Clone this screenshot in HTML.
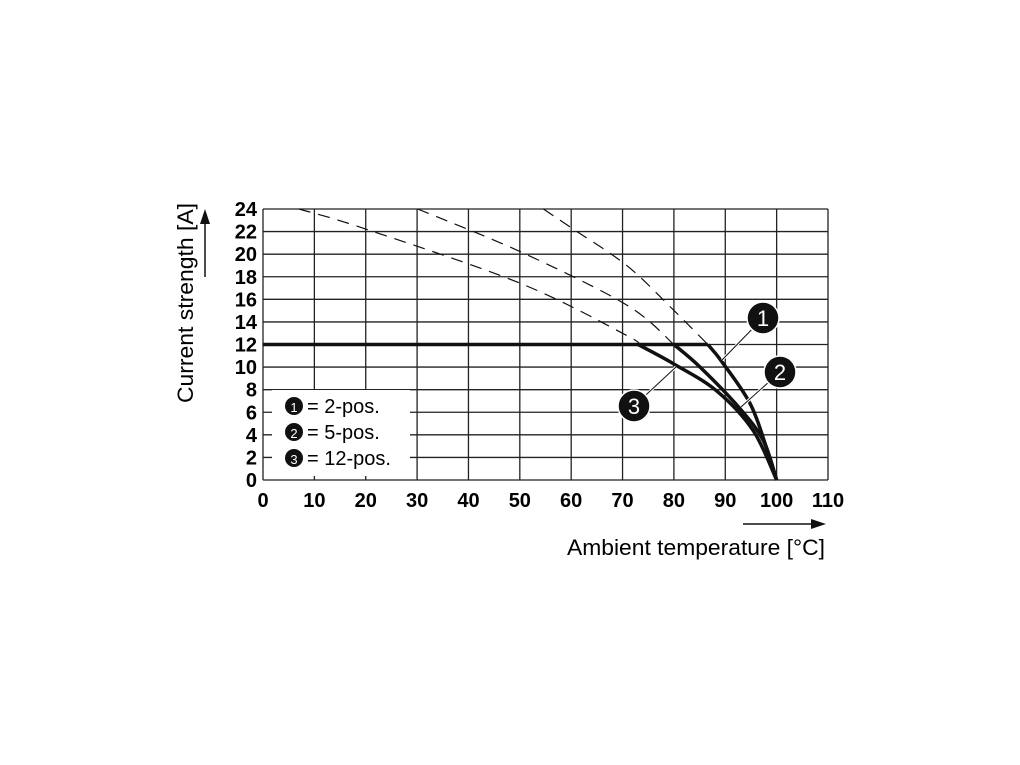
<!DOCTYPE html>
<html><head><meta charset="utf-8"><style>
body{margin:0;background:#fff;}
svg{display:block;font-family:"Liberation Sans",Arial,sans-serif;}
</style></head><body>
<svg id="chart" width="1020" height="765" viewBox="0 0 1020 765" xmlns="http://www.w3.org/2000/svg">
<g id="grid"></g>
<g id="ticks"></g>
<rect x="272" y="390" width="138" height="86" fill="#fff"/>
<g id="series"></g>
<g font-size="20">
  <g><circle cx="294" cy="406" r="9" fill="#111"/><text x="294" y="412" fill="#fff" font-size="13" text-anchor="middle">1</text><text x="307" y="413">= 2-pos.</text></g>
  <g><circle cx="294" cy="432" r="9" fill="#111"/><text x="294" y="438" fill="#fff" font-size="13" text-anchor="middle">2</text><text x="307" y="439">= 5-pos.</text></g>
  <g><circle cx="294" cy="458" r="9" fill="#111"/><text x="294" y="464" fill="#fff" font-size="13" text-anchor="middle">3</text><text x="307" y="465">= 12-pos.</text></g>
</g>
<g>
  <line x1="763" y1="318" x2="722" y2="360" stroke="#fff" stroke-width="3"/><line x1="763" y1="318" x2="722" y2="360" stroke="#111" stroke-width="1"/>
  <line x1="780" y1="372" x2="741" y2="407" stroke="#fff" stroke-width="3"/><line x1="780" y1="372" x2="741" y2="407" stroke="#111" stroke-width="1"/>
  <line x1="634" y1="406" x2="676" y2="367" stroke="#fff" stroke-width="3"/><line x1="634" y1="406" x2="676" y2="367" stroke="#111" stroke-width="1"/>
  <g><circle cx="763" cy="318" r="16" fill="#111" stroke="#fff" stroke-width="1.5"/><text x="763" y="326" fill="#fff" font-size="22" text-anchor="middle">1</text></g>
  <g><circle cx="780" cy="372" r="16" fill="#111" stroke="#fff" stroke-width="1.5"/><text x="780" y="380" fill="#fff" font-size="22" text-anchor="middle">2</text></g>
  <g><circle cx="634" cy="406" r="16" fill="#111" stroke="#fff" stroke-width="1.5"/><text x="634" y="414" fill="#fff" font-size="22" text-anchor="middle">3</text></g>
</g>
<text transform="translate(193,303) rotate(-90)" text-anchor="middle" font-size="22" textLength="200" lengthAdjust="spacingAndGlyphs">Current strength [A]</text>
<g><line x1="205" y1="277" x2="205" y2="222" stroke="#111" stroke-width="1.5"/><polygon points="205,209 200,224 210,224" fill="#111"/></g>
<text x="567" y="555" font-size="22" textLength="258" lengthAdjust="spacingAndGlyphs">Ambient temperature [°C]</text>
<g><line x1="743" y1="524" x2="812" y2="524" stroke="#111" stroke-width="1.5"/><polygon points="826,524 811,519 811,529" fill="#111"/></g>
</svg>
<script>
const xTicks=[0,10,20,30,40,50,60,70,80,90,100,110];
const yTicks=[0,2,4,6,8,10,12,14,16,18,20,22,24];
const flatLevel=12;
const s1dashX=[54.6,59.8,70.8,79.6,86.6];
const s1dashY=[24,22.4,19.0,15.2,12.0];
const s2dashX=[30.1,50.2,70.8,80];
const s2dashY=[24,20.2,15.5,12.0];
const s3dashX=[7.0,19.5,50.2,70.8,73];
const s3dashY=[24,22.3,17.4,12.8,12.0];
const s1X=[86.6,89.3,94.8,98,100];
const s1Y=[12,10.5,6.8,2.9,0];
const s2X=[80,85.1,92.9,97.4,100];
const s2Y=[12,10,6.3,3.5,0];
const s3X=[73,79.9,88.3,95.4,100];
const s3Y=[12,10.3,7.9,4.4,0];
const NS="http://www.w3.org/2000/svg";
const X=v=>263+v*(828-263)/110;
const Y=v=>480-v*(480-209)/24;
function mk(t,a,parent){const e=document.createElementNS(NS,t);for(const k in a)e.setAttribute(k,a[k]);parent.appendChild(e);return e;}
const grid=document.getElementById('grid'),ticks=document.getElementById('ticks'),series=document.getElementById('series');
xTicks.forEach(v=>{const l=mk('line',{x1:X(v),x2:X(v),y1:Y(0),y2:Y(24),stroke:'#222','stroke-width':1.3},grid);


const t=mk('text',{x:X(v),y:507,'text-anchor':'middle','font-size':20,'font-weight':'bold'},ticks);t.textContent=v;

});
yTicks.forEach(v=>{const l=mk('line',{x1:X(0),x2:X(110),y1:Y(v),y2:Y(v),stroke:'#222','stroke-width':1.3},grid);


const t=mk('text',{x:257,y:Y(v)+7,'text-anchor':'end','font-size':20,'font-weight':'bold'},ticks);t.textContent=v;

});
function smooth(xs,ys){const p=xs.map((x,i)=>[X(x),Y(ys[i])]);let d='M'+p[0];
for(let i=0;i<p.length-1;i++){const p0=p[i-1]||p[i],p1=p[i],p2=p[i+1],p3=p[i+2]||p2;
d+=' C'+(p1[0]+(p2[0]-p0[0])/6)+','+(p1[1]+(p2[1]-p0[1])/6)+' '+(p2[0]-(p3[0]-p1[0])/6)+','+(p2[1]-(p3[1]-p1[1])/6)+' '+p2;}return d;}
function path(d,w,dash,name){const e=mk('path',{d:d,fill:'none',stroke:'#111','stroke-width':w},series);if(dash)e.setAttribute('stroke-dasharray',dash);

}
path(smooth(s1dashX,s1dashY),1.2,'12,8','dashed-2-pos');
path(smooth(s2dashX,s2dashY),1.2,'12,8','dashed-5-pos');
path(smooth(s3dashX,s3dashY),1.2,'12,8','dashed-12-pos');
path('M'+X(0)+','+Y(flatLevel)+' L'+X(s1X[0])+','+Y(flatLevel),3.5,null,'flat-12a-line');
path(smooth(s1X,s1Y),3.5,null,'curve-2-pos');
path(smooth(s2X,s2Y),3.5,null,'curve-5-pos');
path(smooth(s3X,s3Y),3.5,null,'curve-12-pos');
</script>
</body></html>
